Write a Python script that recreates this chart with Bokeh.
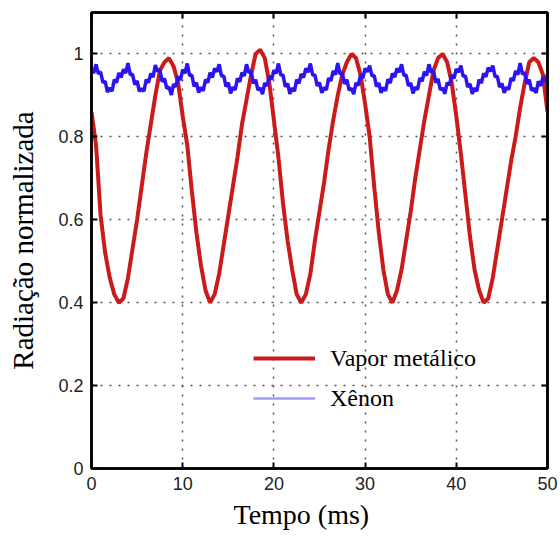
from bokeh.plotting import figure
from bokeh.models import Range1d, LinearAxis, FixedTicker, Legend, LegendItem, Title
from bokeh.embed import file_html
from bokeh.resources import INLINE

# ---- data ----
# Vapor metálico, sampled every 0.5 ms from 0 to 50 ms
red_t = [i * 0.5 for i in range(101)]
red_v = [0.86, 0.78, 0.61, 0.52, 0.46, 0.42, 0.40, 0.41, 0.46, 0.53,
         0.60, 0.68, 0.76, 0.83, 0.90, 0.96, 0.98, 0.99, 0.97, 0.93,
         0.85, 0.78, 0.67, 0.57, 0.49, 0.43, 0.40, 0.42, 0.47, 0.54,
         0.61, 0.68, 0.75, 0.83, 0.89, 0.95, 1.00, 1.01, 0.99, 0.93,
         0.84, 0.75, 0.64, 0.55, 0.48, 0.42, 0.40, 0.42, 0.47, 0.55,
         0.62, 0.69, 0.77, 0.84, 0.90, 0.95, 0.98, 1.00, 0.99, 0.95,
         0.88, 0.80, 0.68, 0.57, 0.48, 0.42, 0.40, 0.43, 0.48, 0.55,
         0.62, 0.70, 0.77, 0.84, 0.90, 0.96, 0.99, 1.00, 0.98, 0.93,
         0.85, 0.76, 0.66, 0.56, 0.48, 0.43, 0.40, 0.41, 0.46, 0.53,
         0.60, 0.67, 0.74, 0.80, 0.87, 0.93, 0.98, 0.99, 0.98, 0.95,
         0.86]

# Xênon, sampled every 0.25 ms from 0 to 50 ms
blue_t = [i * 0.25 for i in range(201)]
blue_v = [0.963, 0.954, 0.975, 0.952, 0.957, 0.931, 0.934, 0.908, 0.918, 0.910,
          0.938, 0.931, 0.954, 0.943, 0.963, 0.954, 0.978, 0.950, 0.951, 0.926,
          0.935, 0.910, 0.916, 0.910, 0.938, 0.931, 0.953, 0.944, 0.973, 0.958,
          0.962, 0.933, 0.941, 0.917, 0.920, 0.901, 0.927, 0.921, 0.946, 0.937,
          0.962, 0.953, 0.977, 0.948, 0.949, 0.922, 0.931, 0.907, 0.920, 0.911,
          0.938, 0.931, 0.955, 0.943, 0.965, 0.957, 0.975, 0.947, 0.947, 0.921,
          0.931, 0.905, 0.920, 0.913, 0.941, 0.933, 0.955, 0.947, 0.975, 0.955,
          0.958, 0.929, 0.938, 0.913, 0.918, 0.903, 0.930, 0.923, 0.947, 0.938,
          0.961, 0.953, 0.977, 0.949, 0.949, 0.921, 0.929, 0.904, 0.918, 0.910,
          0.938, 0.929, 0.952, 0.943, 0.965, 0.956, 0.977, 0.949, 0.949, 0.923,
          0.931, 0.906, 0.919, 0.913, 0.942, 0.935, 0.959, 0.950, 0.978, 0.951,
          0.955, 0.928, 0.938, 0.913, 0.917, 0.903, 0.930, 0.924, 0.949, 0.941,
          0.965, 0.957, 0.972, 0.947, 0.948, 0.921, 0.930, 0.906, 0.919, 0.911,
          0.939, 0.930, 0.953, 0.944, 0.965, 0.956, 0.975, 0.948, 0.949, 0.923,
          0.930, 0.905, 0.920, 0.914, 0.942, 0.934, 0.957, 0.948, 0.975, 0.955,
          0.959, 0.931, 0.940, 0.913, 0.918, 0.904, 0.931, 0.925, 0.949, 0.941,
          0.964, 0.956, 0.972, 0.946, 0.947, 0.920, 0.928, 0.904, 0.918, 0.910,
          0.938, 0.930, 0.953, 0.945, 0.967, 0.958, 0.972, 0.945, 0.946, 0.920,
          0.929, 0.906, 0.920, 0.914, 0.942, 0.935, 0.959, 0.950, 0.978, 0.951,
          0.955, 0.928, 0.938, 0.912, 0.917, 0.906, 0.934, 0.923, 0.944, 0.933,
          0.951]

x_ticks = [0, 10, 20, 30, 40, 50]
y_ticks = [0, 0.2, 0.4, 0.6, 0.8, 1.0]
y_tick_labels = {0: "0", 0.2: "0.2", 0.4: "0.4", 0.6: "0.6", 0.8: "0.8", 1.0: "1"}

series_names = ["Vapor metálico", "Xênon"]
x_title = "Tempo (ms)"
y_title = "Radiação normalizada"

nan = float("nan")

# ---- figure ----
p = figure(width=560, height=537, output_backend="svg", toolbar_location=None,
           x_range=Range1d(0, 50), y_range=Range1d(0, 1.1),
           min_border_left=91, min_border_right=13, min_border_top=12, min_border_bottom=69,
           x_axis_location=None, y_axis_location=None)
p.background_fill_color = "white"
p.border_fill_color = "white"
p.outline_line_color = "black"
p.outline_line_width = 2.5

tick_font = "Liberation Sans"
title_font = "Liberation Serif"

def style_axis(ax, show_labels):
    ax.axis_line_color = "black"
    ax.axis_line_width = 2.5
    ax.major_tick_in = 6
    ax.major_tick_out = 0
    ax.major_tick_line_color = "black"
    ax.major_tick_line_width = 2
    ax.minor_tick_line_color = None
    ax.major_label_text_font = tick_font
    ax.major_label_text_font_size = "18px"
    ax.major_label_text_color = "#222222"
    if not show_labels:
        ax.major_label_text_font_size = "0px"
        ax.major_label_text_alpha = 0

xb = LinearAxis(ticker=FixedTicker(ticks=x_ticks))
style_axis(xb, True)
xb.major_label_standoff = 8
p.add_layout(xb, "below")

yl = LinearAxis(ticker=FixedTicker(ticks=y_ticks), axis_label=y_title)
style_axis(yl, True)
yl.major_label_overrides = y_tick_labels
yl.major_label_standoff = 8
yl.axis_label_text_font = title_font
yl.axis_label_text_font_size = "29px"
yl.axis_label_text_font_style = "normal"
yl.axis_label_text_color = "black"
yl.axis_label_standoff = 16
p.add_layout(yl, "left")

xt = LinearAxis(ticker=FixedTicker(ticks=x_ticks))
style_axis(xt, False)
p.add_layout(xt, "above")
yr = LinearAxis(ticker=FixedTicker(ticks=y_ticks))
style_axis(yr, False)
p.add_layout(yr, "right")

# x axis title (placed slightly left of frame centre, as in the reference)
xtitle = Title(text=x_title, align="left", offset=142, standoff=9,
               text_font=title_font, text_font_size="28px", text_font_style="normal",
               text_color="black")
p.add_layout(xtitle, "below")

# grid
p.xgrid.ticker = FixedTicker(ticks=x_ticks)
p.ygrid.ticker = FixedTicker(ticks=y_ticks)
for g in (p.xgrid, p.ygrid):
    g.grid_line_color = "#555555"
    g.grid_line_width = 1.5
    g.grid_line_dash = "2 7"

# data lines
p.line(red_t, red_v, line_color="#cc1a1a", line_width=4)
p.line(blue_t, blue_v, line_color="#2a14f2", line_width=3.5)

# legend proxies (not drawn in the plot area)
r_leg = p.line([nan, nan], [nan, nan], line_color="#cc1a1a", line_width=4)
b_leg = p.line([nan, nan], [nan, nan], line_color="#9c9cff", line_width=2.5)

legend = Legend(items=[LegendItem(label=series_names[0], renderers=[r_leg]),
                       LegendItem(label=series_names[1], renderers=[b_leg])],
                location=(162, 55))
legend.background_fill_alpha = 0
legend.border_line_alpha = 0
legend.padding = 0
legend.margin = 0
legend.spacing = 10
legend.glyph_width = 62
legend.glyph_height = 30
legend.label_height = 30
legend.label_standoff = 15
legend.label_text_font = title_font
legend.label_text_font_size = "24px"
legend.label_text_color = "black"
legend.label_text_baseline = "middle"
p.add_layout(legend, "center")

open("out.html", "w").write(file_html(p, INLINE))
